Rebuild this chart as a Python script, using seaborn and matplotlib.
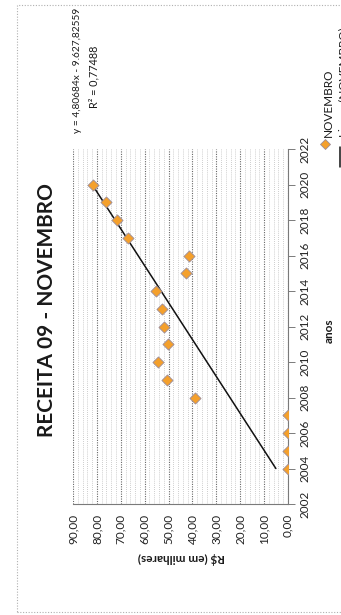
import numpy as np
import matplotlib
matplotlib.use("Agg")
import matplotlib.pyplot as plt
import seaborn as sns
from matplotlib.ticker import MultipleLocator, FuncFormatter
from matplotlib.patches import Rectangle
from matplotlib.lines import Line2D

# dados (R$ em milhares, novembro de cada ano)
anos = [2004, 2005, 2006, 2007, 2008, 2009, 2010, 2011, 2012,
        2013, 2014, 2015, 2016, 2017, 2018, 2019, 2020]
valores = [0.0, 0.0, 0.0, 0.0, 39.1, 50.5, 54.5, 50.4, 51.8,
           52.6, 55.3, 42.7, 41.3, 66.9, 71.5, 76.2, 81.5]

# linha de tendencia (Excel)
coef_a = 4.80684
coef_b = -9627.82559
eq_texto = "y = 4,80684x - 9.627,82559"
r2_texto = "R² = 0,77488"

titulo = "RECEITA 09 - NOVEMBRO"
serie = "NOVEMBRO"

sns.set_style("white")
plt.rcParams["font.family"] = ["Lato", "DejaVu Sans"]

W, H = 341, 615
def fx(px):
    return px / W
def fy(py):
    return 1 - py / H

laranja = "#F4A02C"
borda = "#9C8C98"

# o grafico original foi digitalizado girado 90 graus
fig = plt.figure(figsize=(W / 100, H / 100), dpi=100)
ax = fig.add_axes([fx(73), fy(504), fx(288) - fx(73), fy(149) - fy(504)])

sns.scatterplot(x=valores, y=anos, marker="D", s=32, color=laranja,
                edgecolor=borda, linewidth=0.6, ax=ax, zorder=4)
tend = np.array([anos[0], anos[-1]])
ax.plot(coef_a * tend + coef_b, tend, color="#111111", lw=1.1, zorder=3)

ax.set_xlim(90, 0)
ax.set_ylim(2002, 2022)
ax.xaxis.set_major_locator(MultipleLocator(10))
ax.xaxis.set_minor_locator(MultipleLocator(2))
ax.yaxis.set_major_locator(MultipleLocator(2))
ax.xaxis.set_major_formatter(FuncFormatter(lambda v, p: f"{v:.2f}".replace(".", ",")))
ax.yaxis.set_major_formatter(FuncFormatter(lambda v, p: f"{int(v)}"))
ax.yaxis.tick_right()

for s in ["left", "top"]:
    ax.spines[s].set_visible(False)
for s in ["right", "bottom"]:
    ax.spines[s].set_color("#7a7a7a")
    ax.spines[s].set_linewidth(0.8)

ax.tick_params(axis="x", which="major", direction="out", length=5, width=0.7,
               color="#7a7a7a", labelsize=8.5, labelrotation=90, pad=2, labelcolor="#222222")
ax.tick_params(axis="x", which="minor", length=0)
ax.tick_params(axis="y", which="major", direction="out", length=5, width=0.7,
               color="#7a7a7a", labelsize=8.5, labelrotation=90, pad=3, labelcolor="#222222")
for lb in ax.get_yticklabels():
    lb.set_va("center")

ax.grid(which="major", axis="x", color="#666666", ls=(0, (1, 1.2)), lw=0.8)
ax.grid(which="minor", axis="x", color="#bdbdbd", ls=(0, (1, 1.5)), lw=0.6)
ax.grid(which="major", axis="y", visible=False)
ax.set_xlabel("")
ax.set_ylabel("")

# moldura externa
fig.patches.append(Rectangle((fx(17), fy(612)), 1.2, fy(5) - fy(612), transform=fig.transFigure,
                             fill=False, ls=(0, (1, 1.5)), ec="#b0b0b0", lw=0.8))

# textos (girados)
fig.text(fx(47), fy(310), titulo, rotation=90, ha="center", va="center",
         fontsize=15, fontweight="bold", color="#1a1a1a")
fig.text(fx(77), fy(70), eq_texto, rotation=90, ha="center", va="center",
         fontsize=7.3, color="#1a1a1a")
fig.text(fx(94), fy(77), r2_texto, rotation=90, ha="center", va="center",
         fontsize=7.8, color="#1a1a1a")
fig.text(fx(329), fy(331), "anos", rotation=90, ha="center", va="center",
         fontsize=8.5, fontweight="bold", color="#1a1a1a")
fig.text(fx(181), fy(558), "R$ (em milhares)", rotation=180, ha="center", va="center",
         fontsize=8.5, fontweight="bold", color="#1a1a1a")

# legenda
fig.add_artist(Line2D([fx(325)], [fy(144)], marker="D", markersize=5.5, color=laranja,
                      markeredgecolor=borda, markeredgewidth=0.6, transform=fig.transFigure))
fig.text(fx(328), fy(137), serie, rotation=90, rotation_mode="anchor", ha="left", va="center",
         fontsize=8.5, color="#1a1a1a")
fig.add_artist(Line2D([fx(340), fx(340)], [fy(167), fy(147)], color="#111111", lw=1.1,
                      transform=fig.transFigure))
fig.text(fx(344), fy(137), "Linear (NOVEMBRO)", rotation=90, rotation_mode="anchor",
         ha="left", va="center", fontsize=8.5, color="#1a1a1a")

fig.savefig("out.png", dpi=100)
